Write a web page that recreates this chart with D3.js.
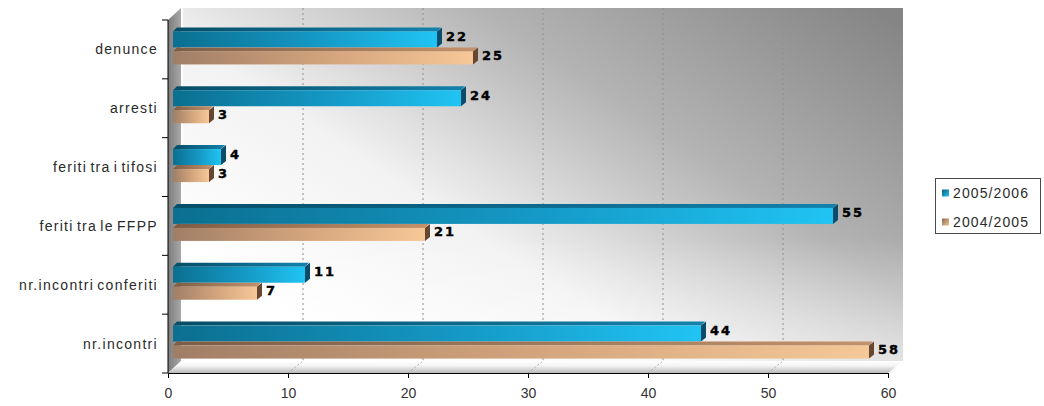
<!DOCTYPE html>
<html>
<head>
<meta charset="utf-8">
<script src="https://cdn.jsdelivr.net/npm/d3@7/dist/d3.min.js"></script>
<style>
  html, body { margin: 0; padding: 0; background: #ffffff; }
  svg { display: block; }
</style>
</head>
<body>
<svg id="chart" width="1044" height="406"></svg>
<script>
// Categories (top to bottom) and the two seasons compared
const categories = ["denunce", "arresti", "feriti tra i tifosi", "feriti tra le FFPP", "nr.incontri conferiti", "nr.incontri"];
const seriesNames = ["2005/2006", "2004/2005"];
const values20052006 = [22, 24, 4, 55, 11, 44];
const values20042005 = [25, 3, 3, 21, 7, 58];
const xTicks = [0, 10, 20, 30, 40, 50, 60];

const svg = d3.select("#chart");
const defs = svg.append("defs");

// Front (axis) scale, back-wall scale and bar scale of the 3D box
const x = d3.scaleLinear().domain([0, 60]).range([168, 888]);
const xBack = d3.scaleLinear().domain([0, 60]).range([183, 903]);
const xBar = d3.scaleLinear().domain([0, 60]).range([173, 893]);
const y = d3.scaleBand().domain(categories).range([20, 373]).paddingInner(0);

const wallTop = 8, floorBack = 361, floorFront = 373;

// ---- gradients ----
function linGrad(id, x1, y1, x2, y2, stops) {
  const g = defs.append("linearGradient").attr("id", id)
    .attr("x1", x1).attr("y1", y1).attr("x2", x2).attr("y2", y2);
  stops.forEach(s => g.append("stop").attr("offset", s[0]).attr("stop-color", s[1]));
}
linGrad("wallGrad", "0.05", "0.75", "1", "0.05", [[0, "#ffffff"], [0.3, "#f2f2f2"], [0.62, "#b4b4b4"], [1, "#858585"]]);
linGrad("wallShade", "0", "0", "0", "1", [[0, "rgba(255,255,255,0)"], [0.65, "rgba(255,255,255,0)"], [1, "rgba(255,255,255,0.5)"]]);
linGrad("sideGrad", "0", "0", "1", "0", [[0, "#7c7c7c"], [1, "#a8a8a8"]]);
linGrad("floorGrad", "0", "0", "0", "1", [[0, "#ffffff"], [0.4, "#f4f4f4"], [1, "#b9b9b9"]]);

linGrad("blueFront", "0", "0", "1", "0", [[0, "#0b6f90"], [0.55, "#1599c6"], [1, "#20c4f3"]]);
linGrad("blueTop", "0", "0", "1", "0", [[0, "#064d66"], [1, "#1282ad"]]);
linGrad("tanFront", "0", "0", "1", "0", [[0, "#a07e66"], [0.55, "#d6a77e"], [1, "#f6c797"]]);
linGrad("tanTop", "0", "0", "1", "0", [[0, "#7d5c45"], [1, "#c4926a"]]);
linGrad("blueKey", "0", "0", "1", "1", [[0, "#0a5f7d"], [1, "#22c3f0"]]);
linGrad("tanKey", "0", "0", "1", "1", [[0, "#8a6a52"], [1, "#f2c596"]]);

// ---- back wall ----
const g = svg.append("g");
g.append("rect").attr("x", xBack(0)).attr("y", wallTop)
  .attr("width", xBack(60) - xBack(0)).attr("height", floorBack - wallTop)
  .attr("fill", "url(#wallGrad)");
g.append("rect").attr("x", xBack(0)).attr("y", wallTop)
  .attr("width", xBack(60) - xBack(0)).attr("height", floorBack - wallTop)
  .attr("fill", "url(#wallShade)");

// dashed gridlines on the back wall and the floor
xTicks.slice(1, -1).forEach(t => {
  g.append("line").attr("x1", xBack(t)).attr("x2", xBack(t))
    .attr("y1", wallTop).attr("y2", floorBack)
    .attr("stroke", "#8f8f8f").attr("stroke-width", 1).attr("stroke-dasharray", "2,3");
});

// left side wall
g.append("path")
  .attr("d", `M${x(0)},${y.range()[0]} L${xBack(0) - 2},${wallTop} L${xBack(0) - 2},${floorBack} L${x(0)},${floorFront} Z`)
  .attr("fill", "url(#sideGrad)");
g.append("line").attr("x1", xBack(0) - 1).attr("x2", xBack(0) - 1)
  .attr("y1", wallTop).attr("y2", floorBack)
  .attr("stroke", "#ffffff").attr("stroke-width", 1.5);

// floor
g.append("path")
  .attr("d", `M${x(0)},${floorFront} L${xBack(0)},${floorBack} L${xBack(60)},${floorBack} L${x(60)},${floorFront} Z`)
  .attr("fill", "url(#floorGrad)");
xTicks.slice(1, -1).forEach(t => {
  g.append("line").attr("x1", x(t)).attr("x2", xBack(t))
    .attr("y1", floorFront).attr("y2", floorBack)
    .attr("stroke", "#a0a0a0").attr("stroke-width", 0.8).attr("stroke-dasharray", "2,2");
});

// ---- bars ----
const depth = 4;
const series = [
  { name: seriesNames[0], values: values20052006, top: -22, bottom: -2, front: "url(#blueFront)", topFace: "url(#blueTop)", cap: "#0a4c69", labelDy: -13 },
  { name: seriesNames[1], values: values20042005, top: -2, bottom: 15, front: "url(#tanFront)", topFace: "url(#tanTop)", cap: "#684630", labelDy: 6 }
];

const bars = svg.append("g");
series.forEach(s => {
  categories.forEach((c, i) => {
    const v = s.values[i];
    const cy = y(c) + y.bandwidth() / 2;
    const x0 = xBar(0), x1 = xBar(v);
    const yt = cy + s.top, yb = cy + s.bottom;
    // top face
    bars.append("path")
      .attr("d", `M${x0},${yt + depth} L${x0 + depth},${yt} L${x1 + depth},${yt} L${x1},${yt + depth} Z`)
      .attr("fill", s.topFace);
    // front face
    bars.append("rect").attr("x", x0).attr("y", yt + depth)
      .attr("width", x1 - x0).attr("height", yb - yt - depth)
      .attr("fill", s.front);
    // end cap
    bars.append("path")
      .attr("d", `M${x1},${yt + depth} L${x1 + depth + 1},${yt} L${x1 + depth + 1},${yb - depth} L${x1},${yb} Z`)
      .attr("fill", s.cap);
    // value label
    bars.append("text")
      .attr("x", x1 + depth + 5).attr("y", cy + s.labelDy)
      .attr("dominant-baseline", "central")
      .attr("font-family", "'DejaVu Sans', sans-serif")
      .attr("font-weight", "bold").attr("font-size", 13)
      .attr("letter-spacing", "2px")
      .attr("fill", "#000").attr("stroke", "#000").attr("stroke-width", 0.4)
      .text(v);
  });
});

// ---- axes ----
const xAxis = d3.axisBottom(x).tickValues(xTicks).tickSize(5).tickSizeOuter(0);
const ax = svg.append("g").attr("transform", `translate(0,${floorFront})`).call(xAxis);
ax.select(".domain").attr("stroke", "#000");
ax.selectAll(".tick line").attr("stroke", "#000");
ax.selectAll(".tick text")
  .attr("font-family", "'Liberation Sans', Arial, sans-serif")
  .attr("font-size", 14).attr("fill", "#333").attr("dy", "1.2em");

// category axis: line, boundary ticks and labels
svg.append("line").attr("x1", x(0)).attr("x2", x(0))
  .attr("y1", y.range()[0]).attr("y2", floorFront).attr("stroke", "#000");
categories.forEach(c => {
  svg.append("line").attr("x1", x(0) - 6).attr("x2", x(0))
    .attr("y1", y(c)).attr("y2", y(c)).attr("stroke", "#000");
});
svg.append("line").attr("x1", x(0) - 6).attr("x2", x(0))
  .attr("y1", floorFront).attr("y2", floorFront).attr("stroke", "#000");
svg.append("g").selectAll("text").data(categories).join("text")
  .attr("x", 158).attr("y", d => y(d) + y.bandwidth() / 2)
  .attr("text-anchor", "end").attr("dominant-baseline", "central")
  .attr("font-family", "'Liberation Sans', Arial, sans-serif")
  .attr("font-size", 14).attr("letter-spacing", "1.3px").attr("word-spacing", "-2px")
  .attr("fill", "#2a2a2a")
  .text(d => d);

// ---- legend ----
const lg = svg.append("g");
lg.append("rect").attr("x", 935.5).attr("y", 178.5).attr("width", 105).attr("height", 55)
  .attr("fill", "#ffffff").attr("stroke", "#4a4a4a").attr("stroke-width", 1);
const keyFills = ["url(#blueKey)", "url(#tanKey)"];
seriesNames.forEach((n, i) => {
  const ly = 193 + i * 29;
  lg.append("rect").attr("x", 942).attr("y", ly - 3.5).attr("width", 7).attr("height", 7)
    .attr("fill", keyFills[i]);
  lg.append("text").attr("x", 953).attr("y", ly)
    .attr("dominant-baseline", "central")
    .attr("font-family", "'Liberation Sans', Arial, sans-serif")
    .attr("font-size", 14).attr("letter-spacing", "1.1px")
    .attr("fill", "#2a2a2a")
    .text(n);
});
</script>
</body>
</html>
